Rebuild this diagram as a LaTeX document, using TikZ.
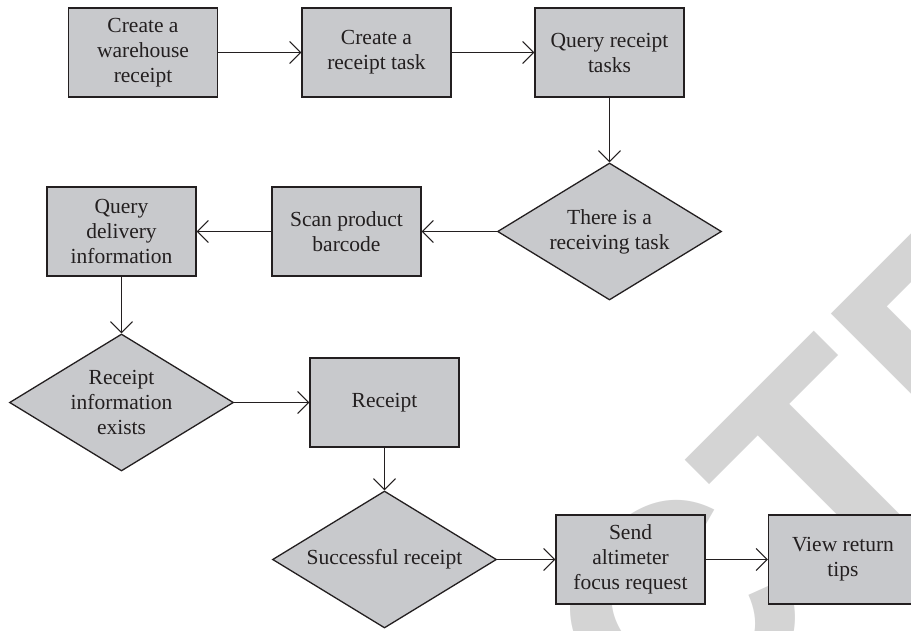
\documentclass[tikz,border=0pt]{standalone}
\usepackage{fontspec}
\setmainfont{Liberation Serif}
\newfontfamily\wmfont{Liberation Sans}
\usetikzlibrary{shapes.geometric,arrows.meta}
\definecolor{boxfill}{RGB}{200,201,204}
\definecolor{ink}{RGB}{35,31,32}
\definecolor{wmgray}{RGB}{212,212,212}
\tikzset{
  procbox/.style={draw=ink, line width=1.3pt, fill=boxfill, minimum width=149pt, minimum height=89pt, inner sep=0pt, align=center, text=ink, font=\fontsize{21.5}{25}\selectfont},
  decbox/.style={draw=ink, line width=1.3pt, fill=boxfill, shape=diamond, minimum width=224pt, minimum height=137pt, inner sep=0pt},
  dectext/.style={align=center, text=ink, inner sep=0pt, font=\fontsize{21.5}{25}\selectfont},
  flow/.style={draw=ink, line width=1.1pt, -{Straight Barb[length=11pt,width=22pt]}},
  watermark/.style={text=wmgray, inner sep=0pt, anchor=base west, rotate=45, font=\wmfont\bfseries\fontsize{310}{310}\selectfont}
}
\begin{document}
\begin{tikzpicture}[x=1pt,y=-1pt]
\useasboundingbox (0,0) rectangle (911,631);
\clip (0,0) rectangle (911,631);
\fill[white] (0,0) rectangle (911,631);
% watermark
\node[watermark] (wm) at (-80,1527) {RETRACTED};
% row 1
\node[procbox] (b1) at (143,52.5) {Create a\\warehouse\\receipt};
\node[procbox] (b2) at (376.5,52.5) {Create a\\receipt task};
\node[procbox] (b3) at (609.5,52.5) {Query receipt\\tasks};
% row 2
\node[decbox] (d1) at (609.5,231.5) {};
\node[dectext] (t1) at (d1.center) {There is a\\receiving task};
\node[procbox] (b4) at (346.5,231.5) {Scan product\\barcode};
\node[procbox] (b5) at (121.5,231.5) {Query\\delivery\\information};
% row 3
\node[decbox] (d2) at (121.5,402.5) {};
\node[dectext] (t2) at (d2.center) {Receipt\\information\\exists};
\node[procbox] (b6) at (384.5,402.5) {Receipt};
% row 4
\node[decbox] (d3) at (384.5,559.5) {};
\node[dectext] (t3) at (d3.center) {Successful receipt};
\node[procbox] (b7) at (630.5,559.5) {Send\\altimeter\\focus request};
\node[procbox] (b8) at (843,559.5) {View return\\tips};
% connectors
\draw[flow] (b1.east) -- (b2.west);
\draw[flow] (b2.east) -- (b3.west);
\draw[flow] (b3.south) -- (d1.north);
\draw[flow] (d1.west) -- (b4.east);
\draw[flow] (b4.west) -- (b5.east);
\draw[flow] (b5.south) -- (d2.north);
\draw[flow] (d2.east) -- (b6.west |- d2.east);
\draw[flow] (b6.south) -- (d3.north);
\draw[flow] (d3.east) -- (b7.west |- d3.east);
\draw[flow] (b7.east) -- (b8.west);
\end{tikzpicture}
\end{document}
